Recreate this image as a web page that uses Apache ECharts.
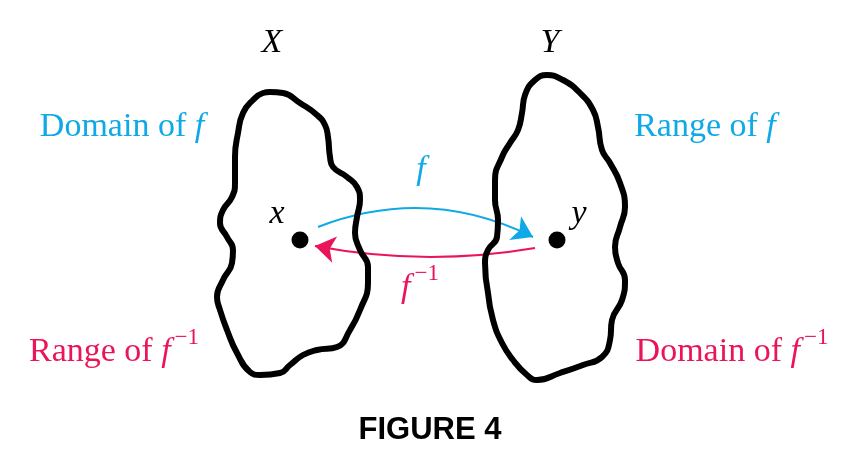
<!DOCTYPE html>
<html>
<head>
<meta charset="utf-8">
<script src="https://cdn.jsdelivr.net/npm/echarts@6/dist/echarts.min.js"></script>
<style>
  html, body { margin: 0; padding: 0; background: #fff; }
  #chart { width: 843px; height: 464px; }
</style>
</head>
<body>
<div id="chart"></div>
<script>
// outline of set X (closed loop, chart units = pixels, y downwards)
const setX = [
  [270,92],[283,93],[300,103],[317,115],[325,125],
  [328,137],[330,157],[333,167],[347,177],[357,187],[360,200],[357,217],[355,233],[360,250],[368,267],
  [368,283],[360,310],[350,330],[337,347],[317,350],[303,355],[290,365],[280,373],[260,375],[250,372],
  [237,353],[227,330],[220,310],[217,297],[223,280],[232,263],[233,250],[227,237],[220,223],[223,210],
  [232,197],[235,183],[235,157],[238,133],[243,113],[253,100],[263,93],[270,92]
];
// outline of set Y
const setY = [
  [488,293],[485,263],[488,250],[497,237],[498,220],[495,200],
  [495,180],[502,157],[510,143],[518,130],[522,113],[525,95],[535,80],[547,75],[563,80],[580,93],
  [593,110],[598,127],[602,150],[610,163],[620,183],[625,207],[620,227],[615,247],[618,263],[625,280],
  [622,300],[612,320],[610,340],[602,357],[583,365],[560,373],[537,380],[527,375],[513,360],[502,343],
  [493,320],[488,293]
];
const points = [[300,240],[557,240]];
const arrowF = [[318,227],[533,237]];
const arrowFInv = [[535,248],[315,246]];

const labelText = [
  "{i|X}", "{i|Y}", "Domain of {i|f}", "Range of {i|f}",
  "Range of {i|f}{sup|−1}", "Domain of {i|f}{sup|−1}",
  "{i|f}", "{i|f}{sup|−1}", "{i|x}", "{i|y}", "{fig|FIGURE 4}"
];
const labelPos = [
  [272,43],[550,43],[122,127],[705,127],
  [114,352],[732,352],
  [421,170],[420,288],[277,214],[579,214],[430,430]
];
const labelColor = [
  "#000","#000","#0ea9e6","#0ea9e6",
  "#ea1558","#ea1558",
  "#0ea9e6","#ea1558","#000","#000","#000"
];

const BLUE = "#0ea9e6";
const RED = "#ea1558";

const chart = echarts.init(document.getElementById("chart"));

function outline(data) {
  return {
    type: "line",
    data,
    smooth: 0.5,
    symbol: "none",
    lineStyle: { color: "#000", width: 6, join: "round", cap: "round", opacity: 1 },
    silent: true
  };
}

chart.setOption({
  animation: false,
  grid: { left: 0, right: 0, top: 0, bottom: 0 },
  xAxis: { type: "value", min: 0, max: 843, show: false },
  yAxis: { type: "value", min: 0, max: 464, inverse: true, show: false },
  series: [
    outline(setX),
    outline(setY),
    {
      type: "lines",
      coordinateSystem: "cartesian2d",
      symbol: ["none", "arrow"],
      symbolSize: 20,
      silent: true,
      data: [
        { coords: arrowF, lineStyle: { color: BLUE, width: 2, curveness: 0.22, opacity: 1 } },
        { coords: arrowFInv, lineStyle: { color: RED, width: 2, curveness: 0.09, opacity: 1 } }
      ]
    },
    {
      type: "scatter",
      data: points,
      symbolSize: 17,
      silent: true,
      itemStyle: { color: "#000", opacity: 1 }
    },
    {
      type: "scatter",
      symbolSize: 0,
      silent: true,
      itemStyle: { opacity: 1 },
      data: labelText.map((t, i) => ({
        value: labelPos[i],
        name: t,
        label: { color: labelColor[i] }
      })),
      label: {
        show: true,
        position: "inside",
        align: "center",
        verticalAlign: "middle",
        formatter: (p) => p.name,
        fontFamily: "Liberation Serif",
        fontSize: 34,
        lineHeight: 52,
        rich: {
          i: { fontFamily: "Liberation Serif", fontStyle: "italic", fontSize: 34, lineHeight: 52 },
          sup: { fontFamily: "Liberation Serif", fontSize: 23, lineHeight: 23, verticalAlign: "top", padding: [0, 0, 0, 4] },
          fig: { fontFamily: "Liberation Sans", fontWeight: "bold", fontSize: 31, lineHeight: 52, color: "#000" }
        }
      }
    }
  ]
});
</script>
</body>
</html>
